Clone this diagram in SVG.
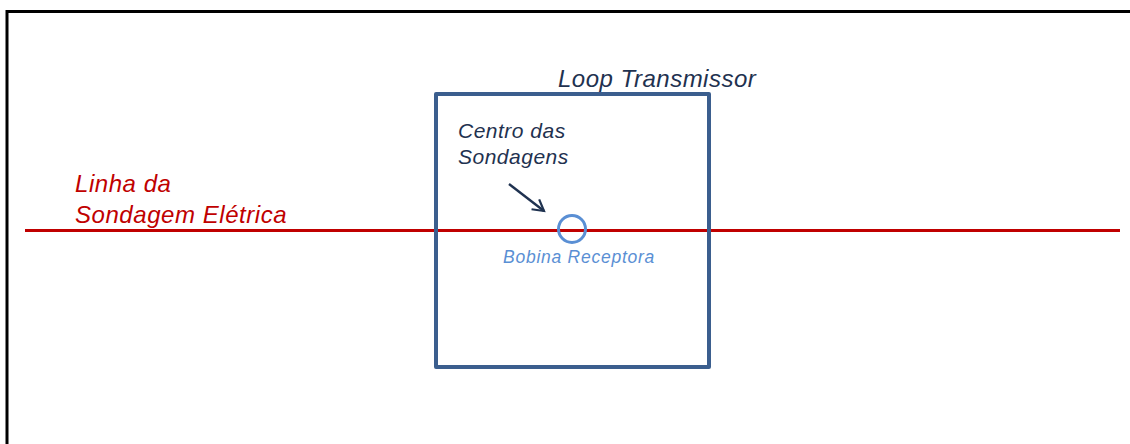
<svg xmlns="http://www.w3.org/2000/svg" width="1130" height="444" viewBox="0 0 1130 444">
  <style>
    .lbl { font-family: "Liberation Sans", Arial, sans-serif; font-style: italic; }
    .red { fill: #C00000; }
    .navy { fill: #1F3250; }
    .blue { fill: #5A8FD4; }
  </style>
  <defs>
    <marker id="arrowOpen" viewBox="0 0 10 10" refX="8.5" refY="5" markerWidth="6.5" markerHeight="6.5" orient="auto" markerUnits="strokeWidth">
      <path d="M1.5,1 L8.5,5 L1.5,9" fill="none" stroke="#1F3250" stroke-width="1.4" stroke-linejoin="miter"/>
    </marker>
  </defs>
  <rect width="1130" height="444" fill="#FFFFFF"/>

  <!-- outer frame (open at right and bottom) -->
  <path d="M7,450 L7,11.5 L1140,11.5" fill="none" stroke="#000000" stroke-width="3"/>

  <!-- survey line -->
  <g id="linha-sondagem">
    <line x1="25" y1="230.5" x2="1120" y2="230.5" stroke="#C00000" stroke-width="3"/>
    <text class="lbl red" x="75" y="192" font-size="24" letter-spacing="0.55">Linha da</text>
    <text class="lbl red" x="75" y="223" font-size="24" letter-spacing="0.55">Sondagem Elétrica</text>
  </g>

  <!-- transmitter loop -->
  <g id="loop-transmissor">
    <rect x="436" y="94" width="273" height="273" fill="none" stroke="#3B5E8E" stroke-width="4" stroke-linejoin="round"/>
    <text class="lbl navy" x="558" y="87" font-size="24" letter-spacing="0.5">Loop Transmissor</text>
  </g>

  <!-- sounding centre -->
  <g id="centro-sondagens">
    <text class="lbl navy" x="458" y="138" font-size="21" letter-spacing="0.5">Centro das</text>
    <text class="lbl navy" x="458" y="164" font-size="21" letter-spacing="0.5">Sondagens</text>
  </g>

  <!-- receiver coil -->
  <g id="bobina-receptora">
    <circle cx="572" cy="229" r="13.5" fill="none" stroke="#5A8FD4" stroke-width="3"/>
    <text class="lbl blue" x="503" y="263" font-size="17.5" letter-spacing="0.75">Bobina Receptora</text>
  </g>

  <!-- connectors -->
  <g id="connectors">
    <line x1="509" y1="184" x2="544" y2="211" stroke="#1F3250" stroke-width="2.4" marker-end="url(#arrowOpen)"/>
  </g>
</svg>
